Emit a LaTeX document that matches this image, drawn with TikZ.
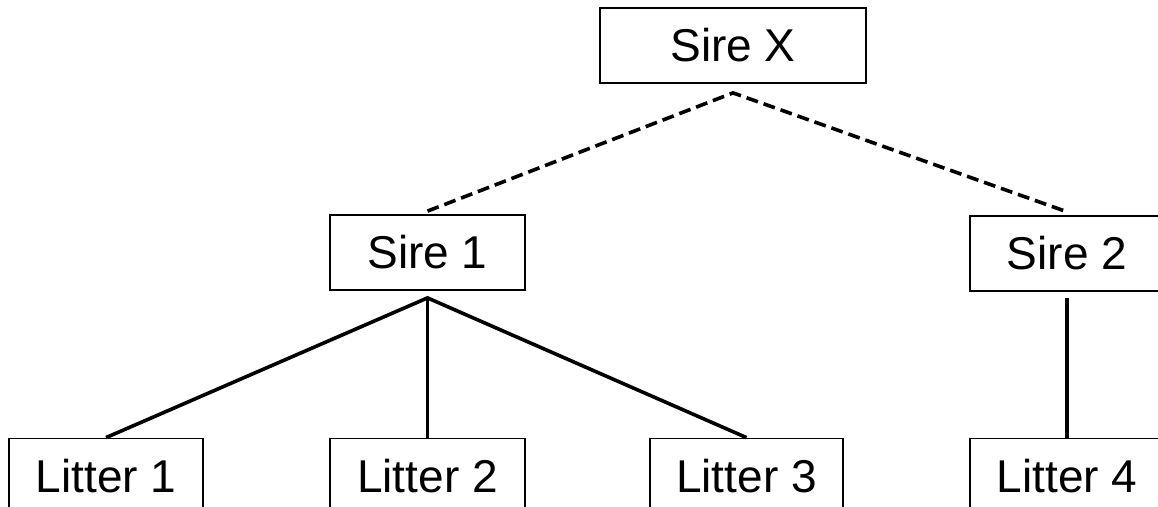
\documentclass[tikz,border=0pt]{standalone}
\usepackage{fontspec}
\setmainfont{Liberation Sans}
\usetikzlibrary{calc}
\begin{document}
\begin{tikzpicture}[x=1pt,y=-1pt,
  box/.style={draw=black,line width=1.8pt,fill=white,minimum height=75pt,inner sep=0pt,
    font=\fontsize{46}{54}\selectfont},
  dashlink/.style={line width=3.6pt,dash pattern=on 12pt off 6pt},
  solidlink/.style={line width=3.6pt}]
\useasboundingbox (0,0) rectangle (1158,506);
\clip (0,0) rectangle (1158,506);
\node[box,minimum width=266pt] (sx) at (733,45.5) {Sire X};
\node[box,minimum width=195pt] (s1) at (427.5,252.5) {Sire 1};
\node[box,minimum width=194pt] (s2) at (1067,253.5) {Sire 2};
\node[box,minimum width=194pt] (l1) at (106,476) {Litter 1};
\node[box,minimum width=195pt] (l2) at (427.5,476) {Litter 2};
\node[box,minimum width=193pt] (l3) at (746.5,476) {Litter 3};
\node[box,minimum width=194pt] (l4) at (1067,476) {Litter 4};
\coordinate (sxa) at ($(sx.south)+(0,9)$);
\coordinate (s1t) at ($(s1.north)+(0,-3)$);
\coordinate (s2t) at ($(s2.north)+(-2,-4)$);
\coordinate (s1b) at ($(s1.south)+(0,7)$);
\coordinate (s2b) at ($(s2.south)+(0,6)$);
\draw[dashlink] (s1t) -- (sxa) -- (s2t);
\draw[solidlink] (l1.north) -- (s1b) -- (l3.north);
\draw[solidlink] (s1b) -- (l2.north);
\draw[solidlink] (s2b) -- (l4.north);
\end{tikzpicture}
\end{document}
